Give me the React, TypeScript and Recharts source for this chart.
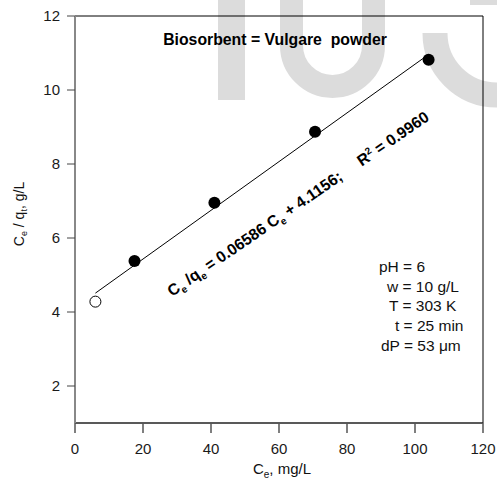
import React from "react";
import { ScatterChart, Scatter, XAxis, YAxis, ReferenceLine } from "recharts";

// C_e (mg/L) vs C_e/q_e (g/L)
const observed = [
  { ce: 17.5, ratio: 5.38 },
  { ce: 41, ratio: 6.95 },
  { ce: 70.6, ratio: 8.87 },
  { ce: 104, ratio: 10.82 },
];
const excluded = [{ ce: 6, ratio: 4.28 }];
// end points of the fitted line Ce/qe = 0.06586 Ce + 4.1156
const fitLine = [
  { ce: 6, ratio: 4.51 },
  { ce: 104, ratio: 10.96 },
];
const xTicks = [0, 20, 40, 60, 80, 100, 120];
const yTicks = [2, 4, 6, 8, 10, 12];
const conditions = ["pH = 6", "w = 10 g/L", "T = 303 K", "t = 25 min", "dP = 53 μm"];

const FONT = "'Liberation Sans', Arial, Helvetica, sans-serif";
const W = 497;
const H = 487;
const WATERMARK = "#dcdcdc";

const condX = [379, 387, 389, 395, 381];

const FilledDot = (props: any) => <circle cx={props.cx} cy={props.cy} r={6} fill="#000" />;
const OpenDot = (props: any) => (
  <circle cx={props.cx} cy={props.cy} r={5.5} fill="#fff" stroke="#000" strokeWidth={1} />
);
const NoDot = () => <g />;

function Watermark() {
  return (
    <svg width={W} height={H} style={{ position: "absolute", left: 0, top: 0 }}>
      <rect x={218} y={0} width={27} height={100} fill={WATERMARK} />
      <path
        d="M 291.5 0 V 45.5 A 41 41 0 0 0 373.5 45.5 V 0"
        fill="none"
        stroke={WATERMARK}
        strokeWidth={23}
      />
      <path d="M 435 33 A 62 62 0 0 0 497 95" fill="none" stroke={WATERMARK} strokeWidth={25} />
      <rect x={470} y={0} width={27} height={5} fill={WATERMARK} />
    </svg>
  );
}

function Annotations() {
  return (
    <svg
      width={W}
      height={H}
      style={{ position: "absolute", left: 0, top: 0, pointerEvents: "none" }}
      fontFamily={FONT}
    >
      <text
        x={275}
        y={45}
        textAnchor="middle"
        fontSize={15.8}
        fontWeight="bold"
        style={{ whiteSpace: "pre" }}
      >
        Biosorbent = Vulgare  powder
      </text>

      <text
        x={172}
        y={297}
        fontSize={15.8}
        fontWeight="bold"
        transform="rotate(-34.5 172 297)"
        style={{ whiteSpace: "pre" }}
      >
        C<tspan fontSize={10} dy={4}>e</tspan>
        <tspan dy={-4}> /q</tspan>
        <tspan fontSize={10} dy={4}>e</tspan>
        <tspan dy={-4}> = 0.06586 C</tspan>
        <tspan fontSize={10} dy={4}>e</tspan>
        <tspan dy={-4}> + 4.1156;     R</tspan>
        <tspan fontSize={10} dy={-6}>2</tspan>
        <tspan dy={6}> = 0.9960</tspan>
      </text>

      {conditions.map((c, i) => (
        <text key={c} x={condX[i]} y={272 + i * 19.7} fontSize={15.5} fill="#111">
          {c}
        </text>
      ))}

      <text x={282} y={474} textAnchor="middle" fontSize={15} fill="#111">
        C<tspan fontSize={10} dy={4}>e</tspan>
        <tspan dy={-4}>, mg/L</tspan>
      </text>

      <text
        x={214}
        y={0}
        textAnchor="middle"
        fontSize={14}
        fill="#111"
        transform="translate(24 0) rotate(-90 0 0) translate(-428 0)"
      >
        C<tspan fontSize={9} dy={3}>e</tspan>
        <tspan dy={-3}> / q</tspan>
        <tspan fontSize={9} dy={3}>t</tspan>
        <tspan dy={-3}>, g/L</tspan>
      </text>
    </svg>
  );
}

export default function App() {
  return (
    <div
      style={{
        position: "fixed",
        left: 0,
        top: 0,
        width: W,
        height: H,
        background: "#fff",
        fontFamily: FONT,
      }}
    >
      <Watermark />
      <div style={{ position: "absolute", left: 0, top: 0 }}>
        <ScatterChart width={W} height={H} margin={{ top: 16, right: 14, bottom: 24, left: 15 }}>
          <XAxis
            type="number"
            dataKey="ce"
            domain={[0, 120]}
            ticks={xTicks}
            allowDataOverflow
            height={40}
            tickSize={10}
            tickMargin={10}
            stroke="#222"
            axisLine={{ stroke: "#222", strokeWidth: 1.5 }}
            tickLine={{ stroke: "#555", strokeWidth: 1.5 }}
            tick={{ fill: "#1a1a1a", fontSize: 15, fontFamily: FONT }}
          />
          <YAxis
            type="number"
            dataKey="ratio"
            domain={[1, 12]}
            ticks={yTicks}
            allowDataOverflow
            width={60}
            tickSize={8}
            tickMargin={7}
            stroke="#222"
            axisLine={{ stroke: "#888", strokeWidth: 2 }}
            tickLine={{ stroke: "#444", strokeWidth: 1 }}
            tick={{ fill: "#1a1a1a", fontSize: 15, fontFamily: FONT }}
          />
          <ReferenceLine y={12} stroke="#000" strokeWidth={1} />
          <ReferenceLine x={120} stroke="#000" strokeWidth={1} />
          <Scatter
            data={fitLine}
            line={{ stroke: "#000", strokeWidth: 1 }}
            shape={NoDot}
            isAnimationActive={false}
          />
          <Scatter data={excluded} shape={OpenDot} isAnimationActive={false} />
          <Scatter data={observed} shape={FilledDot} isAnimationActive={false} />
        </ScatterChart>
      </div>
      <Annotations />
    </div>
  );
}
